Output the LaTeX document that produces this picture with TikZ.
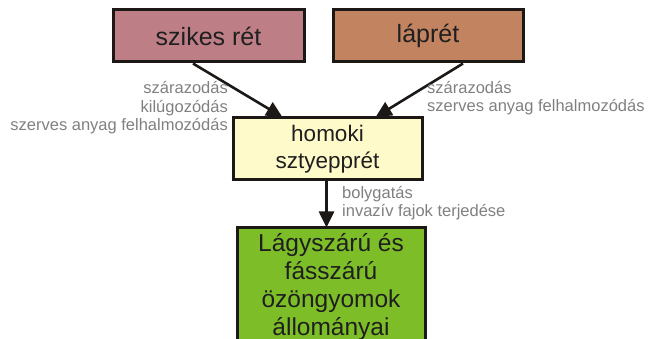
\documentclass[tikz,border=0pt]{standalone}
\usepackage{fontspec}
\setmainfont{Liberation Sans}
\usetikzlibrary{arrows.meta,calc}
\definecolor{szikesfill}{RGB}{190,126,134}
\definecolor{lapfill}{RGB}{193,131,96}
\definecolor{homokfill}{RGB}{255,250,202}
\definecolor{gyomfill}{RGB}{125,190,40}
\definecolor{boxline}{RGB}{28,24,22}
\definecolor{labelgray}{RGB}{128,128,128}
\tikzset{
  x=1pt, y=-1pt,
  habitat/.style={draw=boxline, line width=3pt, rectangle, inner sep=0pt,
    align=center, text=black!88},
  bigtext/.style={font=\fontsize{25}{28}\selectfont},
  midtext/.style={font=\fontsize{22.5}{27}\selectfont},
  proc/.style={text=labelgray, font=\fontsize{16.5}{18.5}\selectfont, inner sep=0pt},
  flow/.style={draw=boxline, line width=2.6pt,
    -{Triangle[length=16pt,width=15pt]}, shorten >=-1pt},
}
\begin{document}
\begin{tikzpicture}
\useasboundingbox (0,0) rectangle (649,339);

% habitat boxes
\node[habitat, bigtext, fill=szikesfill, minimum width=191pt, minimum height=52pt]
  (szikes) at (208.5,36) {szikes rét};
\node[habitat, bigtext, fill=lapfill, minimum width=190pt, minimum height=52pt]
  (lap) at (428,36) {láprét};
\node[habitat, midtext, fill=homokfill, minimum width=189pt, minimum height=62pt]
  (homok) at (327.5,149) {homoki\\sztyepprét};
\node[habitat, font=\fontsize{24.5}{28}\selectfont, fill=gyomfill,
  minimum width=188pt, minimum height=118pt]
  (gyom) at (331,287) {Lágyszárú és\\fásszárú\\özöngyomok\\állományai};

% transitions
\coordinate (vstart) at ($(homok.south)+(-1,0)$);
\draw[flow] ($(szikes.south)+(-15.5,0)$) -- ($(homok.north)+(-46,0)$);
\draw[flow] ($(lap.south)+(35,0)$) -- ($(homok.north)+(49,0)$);
\draw[flow] (vstart) -- (vstart |- gyom.north);

% driving processes (anchored at the baseline of their last line)
\node[proc, anchor=base east, align=right] (bal) at (228,131)
  {szárazodás\\kilúgozódás\\szerves anyag felhalmozódás};
\node[proc, anchor=base west, align=left] (jobb) at (427,112)
  {szárazodás\\szerves anyag felhalmozódás};
\node[proc, anchor=base west, align=left] (lent) at (342,217)
  {bolygatás\\invazív fajok terjedése};
\end{tikzpicture}
\end{document}
